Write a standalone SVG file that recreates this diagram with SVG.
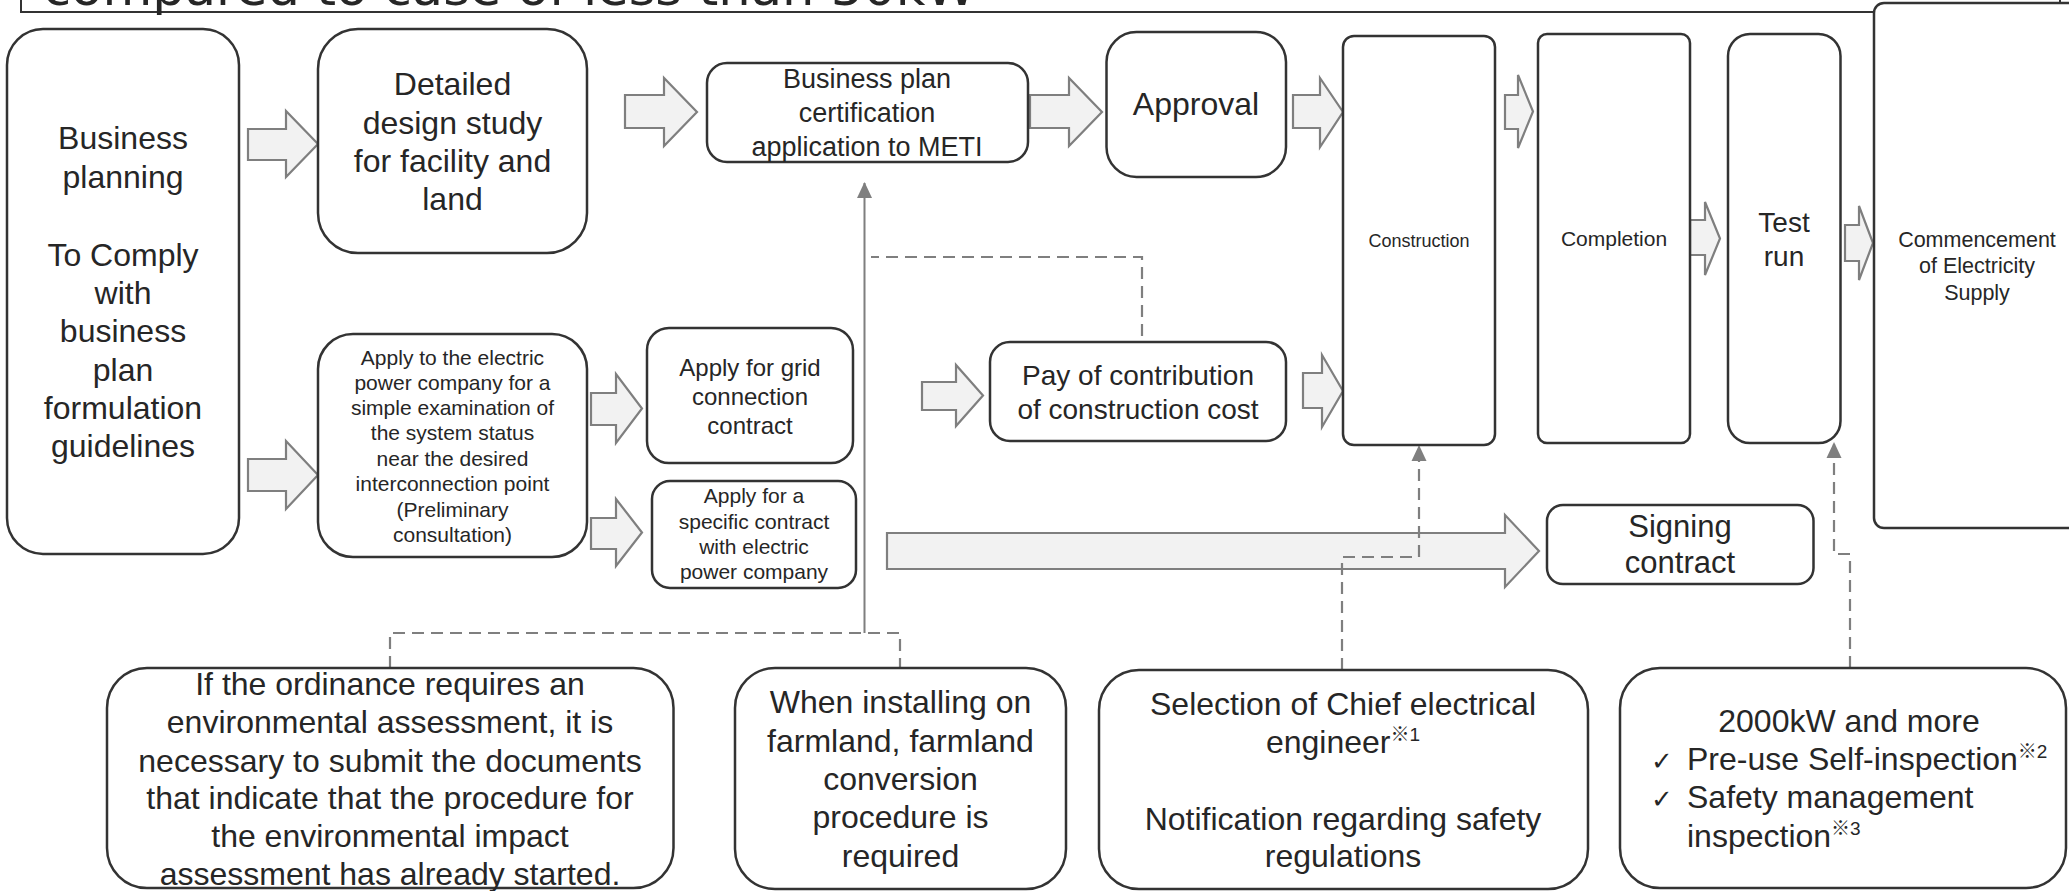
<svg xmlns="http://www.w3.org/2000/svg" width="2069" height="891" viewBox="0 0 2069 891">
<defs>
<style>
.box{fill:#fff;stroke:#333;stroke-width:2.5}
.t{font-family:"Liberation Sans",Arial,"Noto Sans CJK JP",sans-serif;fill:#262626;text-anchor:middle}
.tl{font-family:"Liberation Sans",Arial,"Noto Sans CJK JP",sans-serif;fill:#262626}
.ck{font-family:"DejaVu Sans","Noto Sans CJK JP",sans-serif;fill:#262626}
.blk{fill:#f2f2f2;stroke:#7f7f7f;stroke-width:2.2;stroke-linejoin:miter}
.sol{fill:none;stroke:#7f7f7f;stroke-width:2}
.dash{fill:none;stroke:#7f7f7f;stroke-width:2.2;stroke-dasharray:12 7}
</style>
<marker id="ah" markerUnits="userSpaceOnUse" markerWidth="16" markerHeight="16" viewBox="0 0 16 16" refX="15" refY="8" orient="auto">
<path d="M0,0.5 L16,8 L0,15.5 z" fill="#7f7f7f"/>
</marker>
</defs>
<rect width="2069" height="891" fill="#fff"/>

<g id="title">
<rect x="21" y="-20" width="2039" height="32" fill="none" stroke="#333" stroke-width="2"/>
<text x="43" y="5" font-family="DejaVu Sans,Verdana,sans-serif" font-size="49" fill="#262626" textLength="933" lengthAdjust="spacingAndGlyphs">compared to case of less than 50kW</text>
</g>

<g id="connectors">
<polygon class="blk" points="248,129 286,129 286,111 318,144 286,177 286,160 248,160"/>
<polygon class="blk" points="248,459 286,459 286,441 318,475 286,509 286,491 248,491"/>
<polygon class="blk" points="591,393 616,393 616,374 642,408.5 616,443 616,425 591,425"/>
<polygon class="blk" points="591,518 616,518 616,499 642,532.5 616,566 616,549 591,549"/>
<polygon class="blk" points="625,95 664,95 664,78 697,112 664,146 664,128 625,128"/>
<polygon class="blk" points="1030,95 1069,95 1069,78 1102,112 1069,146 1069,128 1030,128"/>
<polygon class="blk" points="1293,95 1320,95 1320,78 1343,112 1320,147 1320,128 1293,128"/>
<polygon class="blk" points="922,382 956,382 956,365 983,395.5 956,426 956,410 922,410"/>
<polygon class="blk" points="1303,373 1322,373 1322,355 1343,391 1322,427 1322,408 1303,408"/>
<polygon class="blk" points="1505,95 1518,95 1518,75 1533,111.5 1518,148 1518,129 1505,129"/>
<polygon class="blk" points="1690,220 1705,220 1705,202 1720,238.5 1705,275 1705,255 1690,255"/>
<polygon class="blk" points="1845,225 1859,225 1859,206 1873,243 1859,280 1859,261 1845,261"/>
<polygon class="blk" points="887,533 1505,533 1505,515 1539,551 1505,587 1505,569 887,569"/>
<path class="sol" d="M864.5,633 V183" marker-end="url(#ah)"/>
<path class="dash" d="M390,668 V633 H900 V668"/>
<path class="dash" d="M1142,336 V257 H871"/>
<path class="dash" d="M1342,670 V557 H1419 V446" marker-end="url(#ah)"/>
<path class="dash" d="M1850,668 V554 H1834 V443" marker-end="url(#ah)"/>
</g>

<g id="n-business-planning">
<rect class="box" x="7" y="29" width="232" height="525" rx="36"/>
<text class="t" font-size="32"><tspan x="123" y="149">Business</tspan><tspan x="123" y="188">planning</tspan><tspan x="123" y="266">To Comply</tspan><tspan x="123" y="304">with</tspan><tspan x="123" y="342">business</tspan><tspan x="123" y="381">plan</tspan><tspan x="123" y="419">formulation</tspan><tspan x="123" y="457">guidelines</tspan></text>
</g>

<g id="n-detailed-design">
<rect class="box" x="318" y="29" width="269" height="224" rx="40"/>
<text class="t" font-size="32"><tspan x="452.5" y="95">Detailed</tspan><tspan x="452.5" y="133.5">design study</tspan><tspan x="452.5" y="172">for facility and</tspan><tspan x="452.5" y="210">land</tspan></text>
</g>

<g id="n-apply-electric">
<rect class="box" x="318" y="334" width="269" height="223" rx="35"/>
<text class="t" font-size="21"><tspan x="452.5" y="364.5">Apply to the electric</tspan><tspan x="452.5" y="389.5">power company for a</tspan><tspan x="452.5" y="414.5">simple examination of</tspan><tspan x="452.5" y="440">the system status</tspan><tspan x="452.5" y="465.5">near the desired</tspan><tspan x="452.5" y="491">interconnection point</tspan><tspan x="452.5" y="516.5">(Preliminary</tspan><tspan x="452.5" y="541.5">consultation)</tspan></text>
</g>

<g id="n-grid-contract">
<rect class="box" x="647" y="328" width="206" height="135" rx="22"/>
<text class="t" font-size="24"><tspan x="750" y="376">Apply for grid</tspan><tspan x="750" y="405">connection</tspan><tspan x="750" y="433.5">contract</tspan></text>
</g>

<g id="n-specific-contract">
<rect class="box" x="652" y="481" width="204" height="107" rx="18"/>
<text class="t" font-size="21"><tspan x="754" y="503">Apply for a</tspan><tspan x="754" y="528.5">specific contract</tspan><tspan x="754" y="554">with electric</tspan><tspan x="754" y="579">power company</tspan></text>
</g>

<g id="n-business-plan-cert">
<rect class="box" x="707" y="63" width="321" height="99" rx="20"/>
<text class="t" font-size="27"><tspan x="867" y="88">Business plan</tspan><tspan x="867" y="122">certification</tspan><tspan x="867" y="156">application to METI</tspan></text>
</g>

<g id="n-approval">
<rect class="box" x="1106.5" y="32" width="179.5" height="145" rx="30"/>
<text class="t" font-size="32" x="1196" y="115">Approval</text>
</g>

<g id="n-pay">
<rect class="box" x="990" y="342" width="296" height="99" rx="20"/>
<text class="t" font-size="28"><tspan x="1138" y="385">Pay of contribution</tspan><tspan x="1138" y="418.5">of construction cost</tspan></text>
</g>

<g id="n-construction">
<rect class="box" x="1343" y="36" width="152" height="409" rx="11"/>
<text class="t" font-size="18" x="1419" y="246.5">Construction</text>
</g>

<g id="n-completion">
<rect class="box" x="1538" y="34" width="152" height="409" rx="9"/>
<text class="t" font-size="21" x="1614" y="246">Completion</text>
</g>

<g id="n-test-run">
<rect class="box" x="1728" y="34" width="112.5" height="409" rx="22"/>
<text class="t" font-size="28"><tspan x="1784" y="232">Test</tspan><tspan x="1784" y="266">run</tspan></text>
</g>

<g id="n-commencement">
<rect class="box" x="1874" y="3" width="230" height="525" rx="10"/>
<text class="t" font-size="21.5"><tspan x="1977" y="246.5">Commencement</tspan><tspan x="1977" y="273">of Electricity</tspan><tspan x="1977" y="299.5">Supply</tspan></text>
</g>

<g id="n-signing">
<rect class="box" x="1547" y="505" width="266.5" height="79" rx="16"/>
<text class="t" font-size="31"><tspan x="1680" y="537">Signing</tspan><tspan x="1680" y="573">contract</tspan></text>
</g>

<g id="n-environment">
<rect class="box" x="107" y="668" width="566.5" height="220" rx="40"/>
<text class="t" font-size="32"><tspan x="390" y="695">If the ordinance requires an</tspan><tspan x="390" y="733">environmental assessment, it is</tspan><tspan x="390" y="771.5">necessary to submit the documents</tspan><tspan x="390" y="809">that indicate that the procedure for</tspan><tspan x="390" y="847">the environmental impact</tspan><tspan x="390" y="885">assessment has already started.</tspan></text>
</g>

<g id="n-farmland">
<rect class="box" x="735" y="668" width="331" height="221" rx="40"/>
<text class="t" font-size="32"><tspan x="900.5" y="713">When installing on</tspan><tspan x="900.5" y="751.5">farmland, farmland</tspan><tspan x="900.5" y="790">conversion</tspan><tspan x="900.5" y="828">procedure is</tspan><tspan x="900.5" y="866.5">required</tspan></text>
</g>

<g id="n-chief-engineer">
<rect class="box" x="1099" y="670" width="489" height="219" rx="40"/>
<text class="t" font-size="32"><tspan x="1343" y="715">Selection of Chief electrical</tspan><tspan x="1343" y="753">engineer<tspan font-size="19" dy="-12">※1</tspan></tspan><tspan x="1343" y="830">Notification regarding safety</tspan><tspan x="1343" y="867">regulations</tspan></text>
</g>

<g id="n-inspection">
<rect class="box" x="1620" y="668" width="446" height="220" rx="40"/>
<text class="t" font-size="32" x="1849" y="732">2000kW and more</text>
<text class="ck" font-size="26" x="1651" y="770">✓</text>
<text class="tl" font-size="32" x="1687" y="770">Pre-use Self-inspection<tspan font-size="19" dy="-12">※2</tspan></text>
<text class="ck" font-size="26" x="1651" y="808">✓</text>
<text class="tl" font-size="32" x="1687" y="808">Safety management</text>
<text class="tl" font-size="32" x="1687" y="847">inspection<tspan font-size="19" dy="-12">※3</tspan></text>
</g>
</svg>
